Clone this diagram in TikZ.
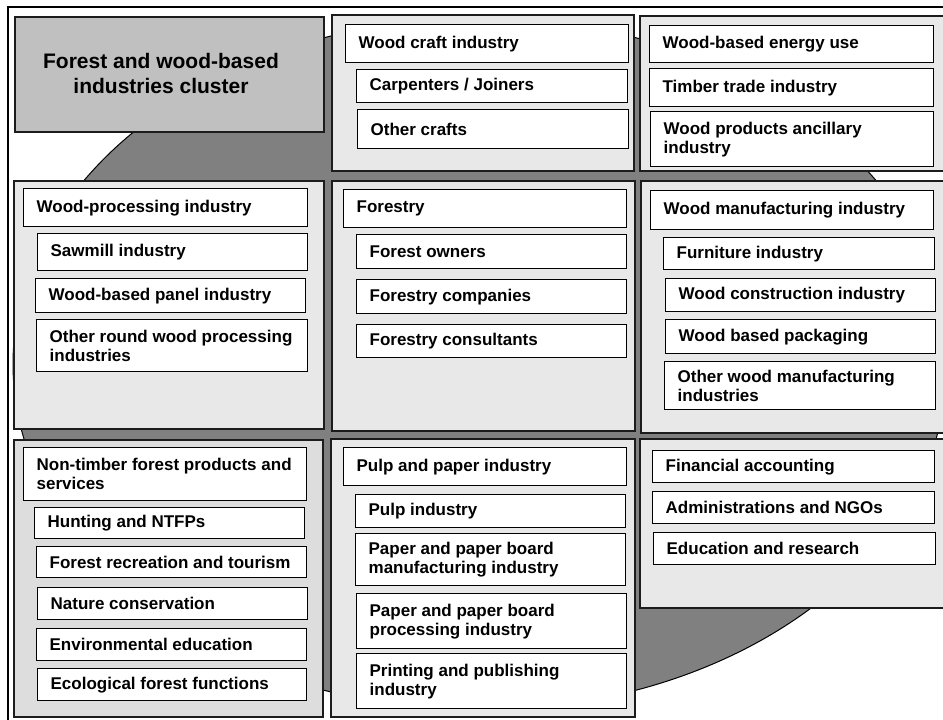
\documentclass[tikz,border=0pt]{standalone}
\usepackage{fontspec}
\setmainfont{Liberation Sans}

\definecolor{ellgray}{RGB}{128,128,128}
\definecolor{panelgray}{RGB}{232,232,232}
\definecolor{paneldark}{RGB}{221,221,221}
\definecolor{titlegray}{RGB}{192,192,192}
\definecolor{edge}{RGB}{28,28,28}

\tikzset{
  panel/.style={draw=edge, line width=1.5pt, inner sep=0pt, anchor=north west},
  ibox/.style={draw=black, line width=1.3pt, fill=white, anchor=north west,
    inner xsep=0pt, inner ysep=1pt,
    font=\bfseries\fontsize{17}{19}\selectfont},
  titletxt/.style={align=center, inner sep=0pt,
    font=\bfseries\fontsize{21}{25}\selectfont},
}

% panel: [fill]{name}{x1}{y1}{x2}{y2}
\newcommand\pnl[6][panelgray]{%
  \pgfmathsetmacro\pw{#5-#3}\pgfmathsetmacro\ph{#6-#4}%
  \node[panel, fill=#1, minimum width=\pw pt, minimum height=\ph pt] (#2) at (#3,#4) {};}

% entry box: {name}{x1}{y1}{x2}{y2}{text}; ragged-right text, 13pt in from the left edge
\newcommand\ibx[6]{%
  \pgfmathsetmacro\bw{#4-#2}\pgfmathsetmacro\bh{#5-#3}\pgfmathsetmacro\tw{#4-#2-18}%
  \node[ibox, minimum width=\bw pt, minimum height=\bh pt] (#1) at (#2,#3)
    {\hspace*{13pt}\parbox[c]{\tw pt}{\raggedright\hyphenpenalty=10000
      \exhyphenpenalty=10000 #6\par}\hspace*{5pt}};}

\begin{document}
\begin{tikzpicture}[x=1pt,y=-1pt]
\useasboundingbox (0,0) rectangle (943,720);
\clip (0,0) rectangle (943,720);
\fill[white] (0,0) rectangle (943,720);

% background disc
\draw[fill=ellgray, line width=1pt] (480,364) ellipse [x radius=467pt, y radius=346pt];

% outer frame
\draw[line width=1.2pt] (8,7) rectangle (960,730);

% title
\pnl[titlegray]{title}{14}{16}{323}{131}
\node[titletxt] (titletext) at (161,73) {Forest and wood-based\\industries cluster};

% panels
\pnl{craft}{331}{14}{633}{170}
\pnl{trade}{639}{15}{955}{170}
\pnl{proc}{13}{180}{323}{428}
\pnl{forest}{331}{180}{634}{430}
\pnl{manuf}{640}{180}{955}{432}
\pnl[paneldark]{ntfp}{13}{439}{322}{716}
\pnl{pulp}{330}{438}{634}{716}
\pnl{serv}{639}{438}{955}{607}

% wood craft
\ibx{c0}{345}{24}{628}{62}{Wood craft industry}
\ibx{c1}{356}{69}{627}{102}{Carpenters / Joiners}
\ibx{c2}{357}{109}{628}{148}{Other crafts}

% energy and trade
\ibx{t0}{649}{25}{933}{62}{Wood-based energy use}
\ibx{t1}{649}{68}{933}{106}{Timber trade industry}
\ibx{t2}{650}{111}{933}{166}{Wood products ancillary industry}

% wood processing
\ibx{p0}{23}{188}{307}{226}{Wood-processing industry}
\ibx{p1}{37}{233}{307}{270}{Sawmill industry}
\ibx{p2}{35}{278}{305}{312}{Wood-based panel industry}
\ibx{p3}{36}{319}{307}{371}{Other round wood processing industries}

% forestry
\ibx{f0}{343}{189}{626}{227}{Forestry}
\ibx{f1}{356}{234}{626}{268}{Forest owners}
\ibx{f2}{356}{279}{626}{313}{Forestry companies}
\ibx{f3}{356}{324}{626}{357}{Forestry consultants}

% wood manufacturing
\ibx{m0}{650}{190}{933}{229}{Wood manufacturing industry}
\ibx{m1}{663}{237}{934}{269}{Furniture industry}
\ibx{m2}{665}{278}{935}{311}{Wood construction industry}
\ibx{m3}{665}{319}{935}{353}{Wood based packaging}
\ibx{m4}{664}{361}{935}{409}{Other wood manufacturing industries}

% non-timber products and services
\ibx{n0}{23}{447}{306}{500}{Non-timber forest products and services}
\ibx{n1}{34}{507}{304}{538}{Hunting and NTFPs}
\ibx{n2}{36}{546}{306}{577}{Forest recreation and tourism}
\ibx{n3}{37}{587}{307}{619}{Nature conservation}
\ibx{n4}{36}{628}{306}{660}{Environmental education}
\ibx{n5}{37}{668}{306}{700}{Ecological forest functions}

% pulp and paper
\ibx{q0}{343}{447}{626}{485}{Pulp and paper industry}
\ibx{q1}{355}{494}{625}{527}{Pulp industry}
\ibx{q2}{355}{533}{625}{585}{Paper and paper board manufacturing industry}
\ibx{q3}{356}{593}{626}{648}{Paper and paper board processing industry}
\ibx{q4}{356}{653}{626}{708}{Printing and publishing industry}

% services
\ibx{s0}{652}{450}{934}{482}{Financial accounting}
\ibx{s1}{652}{491}{934}{523}{Administrations and NGOs}
\ibx{s2}{653}{532}{935}{564}{Education and research}
\end{tikzpicture}
\end{document}
